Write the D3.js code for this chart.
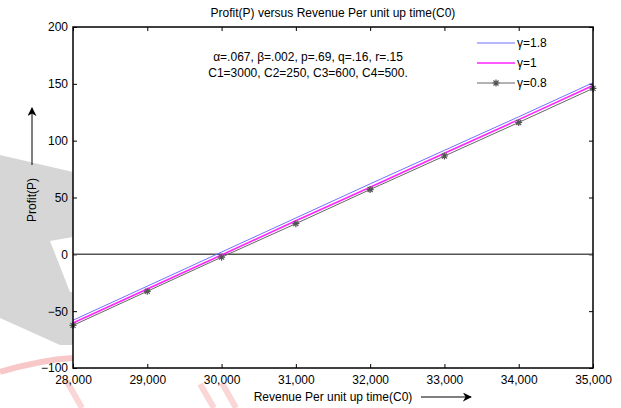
<!DOCTYPE html>
<html>
<head>
<meta charset="utf-8">
<script src="https://cdn.jsdelivr.net/npm/d3@7"></script>
<style>
  body { margin: 0; background: #fff; }
  svg { display: block; font-family: "Liberation Sans", Arial, sans-serif; }
</style>
</head>
<body>
<div id="chart"></div>
<script>
// data
let revenue = [28000, 29000, 30000, 31000, 32000, 33000, 34000, 35000]
let gamma18 = [-58, -28, 2, 32, 62, 91.5, 121, 151]
let gamma1 = [-60.5, -30.5, -0.5, 29.5, 59, 89, 118.5, 148.5]
let gamma08 = [-62.5, -32.5, -2.5, 27, 57, 86.5, 116, 146]
let yTicks = [-100, -50, 0, 50, 100, 150, 200]
let seriesNames = ["\u03b3=1.8", "\u03b3=1", "\u03b3=0.8"]
let noteLines = ["\u03b1=.067, \u03b2=.002, p=.69, q=.16, r=.15", "C1=3000, C2=250, C3=600, C4=500."]

let W = 621, H = 408
let margin = {left: 73, right: 28, top: 27, bottom: 40}
let fontSize = "12px"

let svg = d3.select("#chart").append("svg")
  .attr("width", W)
  .attr("height", H)

let x = d3.scaleLinear().domain([28000, 35000]).range([margin.left, W - margin.right])
let y = d3.scaleLinear().domain([-100, 200]).range([H - margin.bottom, margin.top])

////////////////////////////////////////////////////////////////
// faint watermark behind the figure
let wm = svg.append("g")
wm.append("path")
  .attr("d", "M0,155 L73,172 L73,237 L50,241 L70,292 L73,292 L73,345 L60,345 L0,318 Z")
  .attr("fill", "#d6d6d6")
wm.append("path")
  .attr("d", "M0,372 Q40,360 73,358")
  .attr("fill", "none")
  .attr("stroke", "#f8c8c8")
  .attr("stroke-width", 6)
wm.append("path")
  .attr("d", "M66,380 L82,408 M200,384 L214,408 M222,383 L236,408")
  .attr("fill", "none")
  .attr("stroke", "#fbd6d6")
  .attr("stroke-width", 6)

// plot background
svg.append("rect")
  .attr("x", x(28000)).attr("y", y(200))
  .attr("width", x(35000) - x(28000))
  .attr("height", y(-100) - y(200))
  .attr("fill", "#fff")

////////////////////////////////////////////////////////////////
// axes, ticks point inward
let fmt = d3.format(",")
let xBottom = d3.axisBottom(x).tickValues(revenue).tickFormat(fmt)
  .tickSizeInner(-4).tickSizeOuter(0).tickPadding(7)
let xTop = d3.axisTop(x).tickValues(revenue).tickFormat("")
  .tickSizeInner(-4).tickSizeOuter(0)
let yLeft = d3.axisLeft(y).tickValues(yTicks)
  .tickSizeInner(-4).tickSizeOuter(0).tickPadding(5)
let yRight = d3.axisRight(y).tickValues(yTicks).tickFormat("")
  .tickSizeInner(-4).tickSizeOuter(0)

function styleAxis(g) {
  g.select(".domain").remove()
  g.selectAll("line").attr("stroke", "#000")
  g.selectAll("text").attr("fill", "#000").style("font-size", fontSize)
}

svg.append("g").attr("transform", `translate(0,${y(-100)})`).call(xBottom).call(styleAxis)
svg.append("g").attr("transform", `translate(0,${y(200)})`).call(xTop).call(styleAxis)
svg.append("g").attr("transform", `translate(${x(28000)},0)`).call(yLeft).call(styleAxis)
svg.append("g").attr("transform", `translate(${x(35000)},0)`).call(yRight).call(styleAxis)

// zero line
svg.append("line")
  .attr("x1", x(28000)).attr("x2", x(35000))
  .attr("y1", y(0)).attr("y2", y(0))
  .attr("stroke", "#555")
  .attr("stroke-width", 1.5)

////////////////////////////////////////////////////////////////
// series
let series = [
  {name: seriesNames[0], values: gamma18, color: "#7070ff", width: 1, star: false},
  {name: seriesNames[1], values: gamma1, color: "#ff22ff", width: 1.6, star: false},
  {name: seriesNames[2], values: gamma08, color: "#666", width: 1, star: true}
]

let line = d3.line()
  .x((d, i) => x(revenue[i]))
  .y(d => y(d))

svg.append("g").selectAll("path")
  .data(series)
  .enter()
  .append("path")
  .attr("d", d => line(d.values))
  .attr("fill", "none")
  .attr("stroke", d => d.color)
  .attr("stroke-width", d => d.width)

// matlab style asterisk marker
function star(g, cx, cy, color) {
  let r = 3.5, s = 2.5
  g.append("path")
    .attr("d", `M${cx - r},${cy} L${cx + r},${cy} M${cx},${cy - r} L${cx},${cy + r}` +
      ` M${cx - s},${cy - s} L${cx + s},${cy + s} M${cx - s},${cy + s} L${cx + s},${cy - s}`)
    .attr("stroke", color)
    .attr("stroke-width", 1.2)
    .attr("fill", "none")
}

let markers = svg.append("g")
gamma08.forEach((d, i) => star(markers, x(revenue[i]), y(d), "#555"))

// frame
svg.append("rect")
  .attr("x", x(28000)).attr("y", y(200))
  .attr("width", x(35000) - x(28000))
  .attr("height", y(-100) - y(200))
  .attr("fill", "none")
  .attr("stroke", "#000")
  .attr("stroke-width", 1.5)

////////////////////////////////////////////////////////////////
// legend
let legend = svg.append("g")
series.forEach((s, i) => {
  let ly = 43 + i * 20
  legend.append("line")
    .attr("x1", 477).attr("x2", 515)
    .attr("y1", ly).attr("y2", ly)
    .attr("stroke", s.color)
    .attr("stroke-width", s.width)
  if (s.star) star(legend, 496, ly, "#555")
  legend.append("text")
    .attr("x", 517).attr("y", ly + 4)
    .style("font-size", fontSize)
    .text(s.name)
})

////////////////////////////////////////////////////////////////
// title, notes, labels
svg.append("text")
  .attr("x", 333).attr("y", 17)
  .attr("text-anchor", "middle")
  .style("font-size", fontSize)
  .text("Profit(P) versus Revenue Per unit up time(C0)")

svg.selectAll(".note")
  .data(noteLines)
  .enter()
  .append("text")
  .attr("class", "note")
  .attr("x", 308)
  .attr("y", (d, i) => 61 + i * 16)
  .attr("text-anchor", "middle")
  .style("font-size", fontSize)
  .text(d => d)

svg.append("text")
  .attr("x", 333).attr("y", 401)
  .attr("text-anchor", "middle")
  .style("font-size", fontSize)
  .text("Revenue Per unit up time(C0)")

svg.append("text")
  .attr("transform", "translate(36,200) rotate(-90)")
  .attr("text-anchor", "middle")
  .style("font-size", fontSize)
  .text("Profit(P)")

// arrows
let defs = svg.append("defs")
defs.append("marker")
  .attr("id", "arrow")
  .attr("viewBox", "0 0 10 10")
  .attr("refX", 9).attr("refY", 5)
  .attr("markerWidth", 9).attr("markerHeight", 9)
  .attr("markerUnits", "userSpaceOnUse")
  .attr("orient", "auto")
  .append("path")
  .attr("d", "M0,0 L10,5 L0,10 L3,5 Z")
  .attr("fill", "#000")

svg.append("line")
  .attr("x1", 421).attr("y1", 397).attr("x2", 471).attr("y2", 397)
  .attr("stroke", "#000").attr("marker-end", "url(#arrow)")

svg.append("line")
  .attr("x1", 32).attr("y1", 165).attr("x2", 32).attr("y2", 108)
  .attr("stroke", "#000").attr("marker-end", "url(#arrow)")
</script>
</body>
</html>
